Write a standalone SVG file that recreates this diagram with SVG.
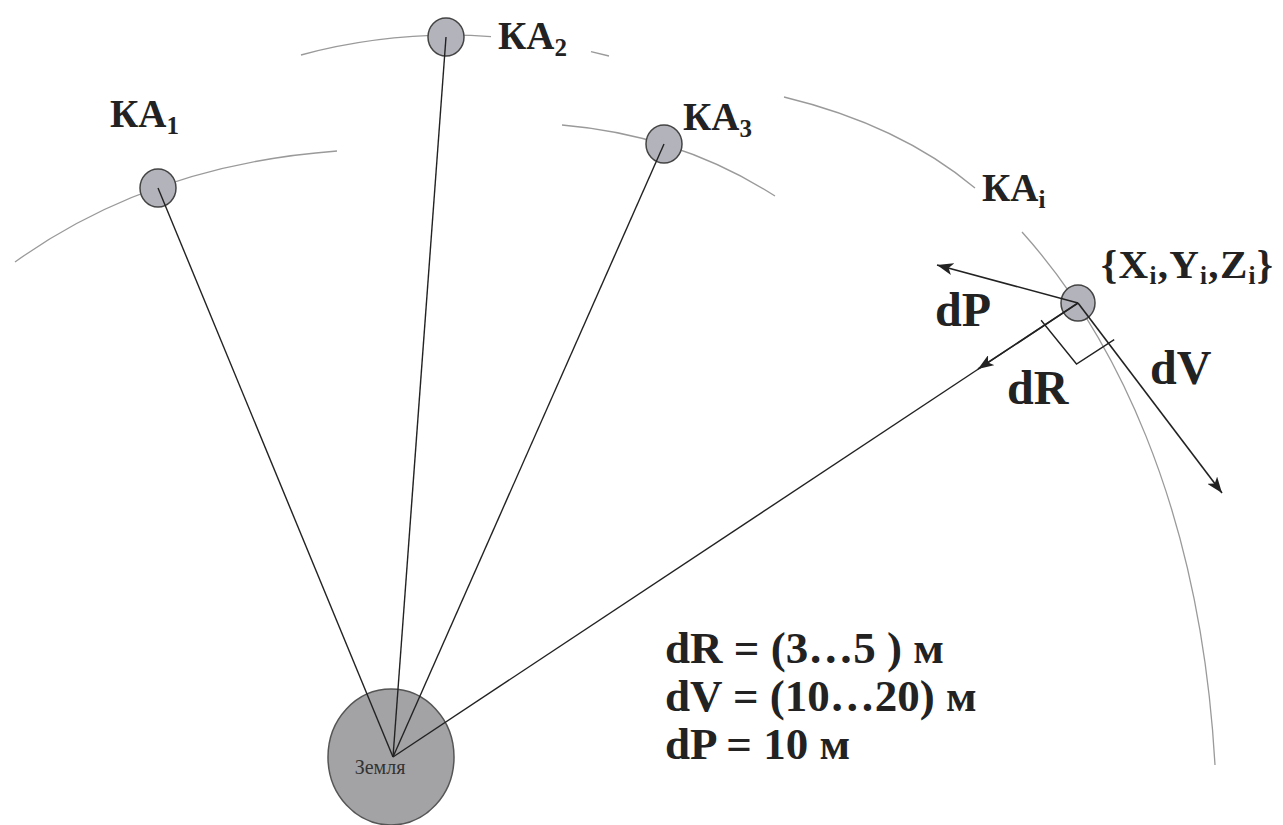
<svg xmlns="http://www.w3.org/2000/svg" width="1283" height="825" viewBox="0 0 1283 825">
  <style>
    .orbit { fill: none; stroke: #9a9a9a; stroke-width: 1.3; }
    .ray { fill: none; stroke: #222; stroke-width: 1.4; }
    .vec { fill: none; stroke: #222; stroke-width: 1.6; marker-end: url(#arrow); }
    .sat { fill: #b3b3bb; stroke: #444; stroke-width: 1.5; }
    .earth { fill: #a3a3a6; stroke: #555; stroke-width: 1.5; }
    .lbl { font-family: "Liberation Serif", "Times New Roman", serif; font-weight: bold; fill: #222; }
    .ka { font-size: 39px; }
    .sub { font-size: 25px; }
    .big { font-size: 48px; }
    .eq { font-size: 45px; }
  </style>
  <defs>
    <marker id="arrow" viewBox="0 0 16 12" refX="16" refY="6" markerWidth="16" markerHeight="12" markerUnits="userSpaceOnUse" orient="auto">
      <path d="M0,0 L16,6 L0,12 L4,6 z" fill="#222"/>
    </marker>
  </defs>

  <g id="orbits">
    <path class="orbit" d="M15,262 Q150,165 337,151"/>
    <path class="orbit" d="M301,55 Q394.1,30 491,36.6"/>
    <path class="orbit" d="M591,51.6 L609,56"/>
    <path class="orbit" d="M562,125 Q680,135 775,196"/>
    <path class="orbit" d="M784,97 Q900,125 975,188"/>
    <path class="orbit" d="M1022,232 C1110,330 1200,500 1215,765"/>
  </g>

  <g id="earth">
    <ellipse class="earth" cx="391" cy="757" rx="63" ry="68"/>
    <text x="380" y="774" text-anchor="middle" font-family="Liberation Serif, serif" font-size="20" fill="#333">Земля</text>
  </g>

  <g id="ka1">
    <ellipse class="sat" cx="158" cy="188" rx="18" ry="19"/>
    <text class="lbl ka" x="110" y="127">КА<tspan class="sub" dy="7">1</tspan></text>
  </g>
  <g id="ka2">
    <ellipse class="sat" cx="446" cy="37" rx="18" ry="19"/>
    <text class="lbl ka" x="498" y="49">КА<tspan class="sub" dy="7">2</tspan></text>
  </g>
  <g id="ka3">
    <ellipse class="sat" cx="664" cy="144" rx="18" ry="19"/>
    <text class="lbl ka" x="683" y="130">КА<tspan class="sub" dy="7">3</tspan></text>
  </g>
  <g id="kai">
    <ellipse class="sat" cx="1078" cy="303" rx="17" ry="18"/>
    <text class="lbl ka" x="982" y="201">КА<tspan class="sub" dy="7">i</tspan></text>
    <text class="lbl" font-size="41" x="1101" y="278" textLength="172">{X<tspan class="sub" dy="6">i</tspan><tspan dy="-6">,Y</tspan><tspan class="sub" dy="6">i</tspan><tspan dy="-6">,Z</tspan><tspan class="sub" dy="6">i</tspan><tspan dy="-6">}</tspan></text>
  </g>

  <g id="connectors">
    <line class="ray" x1="393" y1="757" x2="158" y2="188"/>
    <line class="ray" x1="393" y1="757" x2="446" y2="37"/>
    <line class="ray" x1="393" y1="757" x2="664" y2="144"/>
    <line class="ray" x1="393" y1="757" x2="1078" y2="303"/>
    <line class="vec" x1="1078" y1="303" x2="937" y2="265"/>
    <line class="vec" x1="1078" y1="303" x2="978" y2="369"/>
    <line class="vec" x1="1078" y1="303" x2="1222" y2="493"/>
    <path class="ray" d="M1041.1,320.3 L1076.5,364 L1114.2,339.6"/>
  </g>

  <g id="vector-labels">
    <text class="lbl big" x="935" y="326">dP</text>
    <text class="lbl big" x="1007" y="404">dR</text>
    <text class="lbl big" x="1150" y="384">dV</text>
  </g>

  <g id="equations">
    <text class="lbl eq" x="665" y="663">dR = (3…5 ) м</text>
    <text class="lbl eq" x="665" y="711">dV = (10…20) м</text>
    <text class="lbl eq" x="665" y="759">dP = 10 м</text>
  </g>
</svg>
